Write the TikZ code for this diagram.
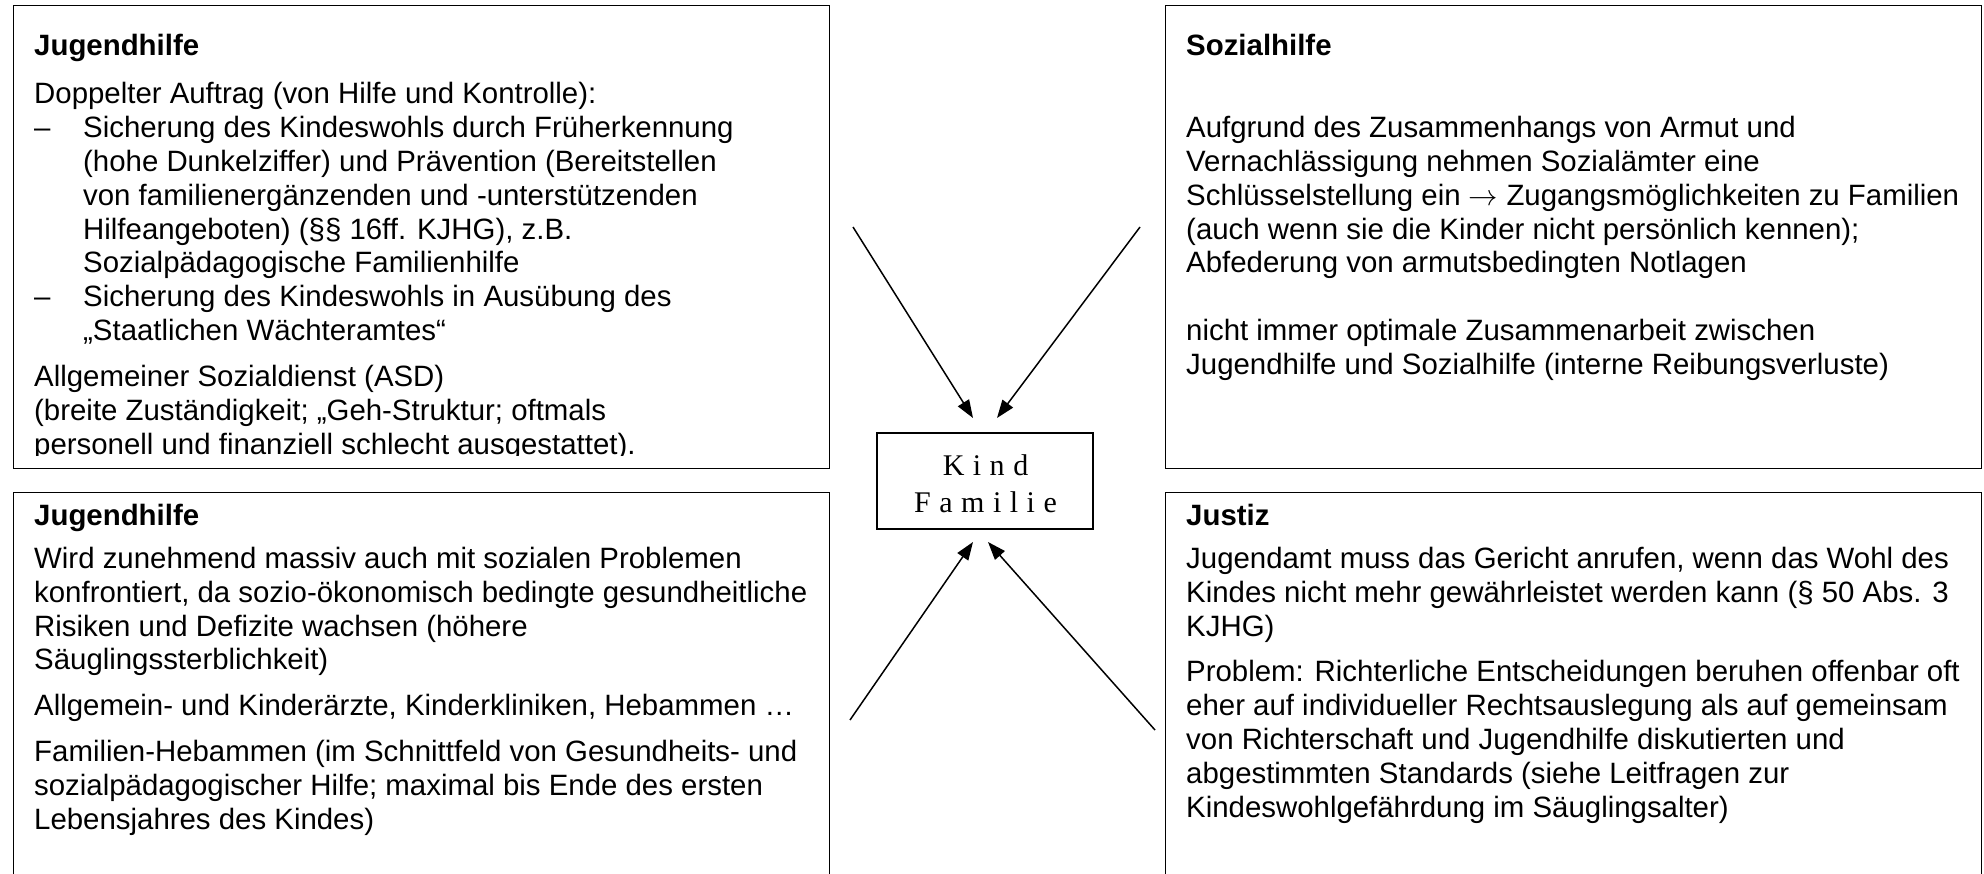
\RequirePackage{fix-cm}
\documentclass[tikz,border=0pt]{standalone}
\usepackage{fontspec}
\setmainfont{Liberation Sans}
\newfontfamily\kfont{Liberation Serif}
\usetikzlibrary{arrows.meta}
\begin{document}
\begin{tikzpicture}[x=1pt,y=-1pt,
  box/.style={draw=black,line width=1.3pt,inner sep=0pt,anchor=north west},
  txt/.style={anchor=base west,inner sep=0pt,font=\fontsize{29.4}{33.8}\selectfont},
  ttl/.style={anchor=base west,inner sep=0pt,font=\fontsize{29.4}{33.8}\selectfont\bfseries},
  arr/.style={line width=1.5pt,-{Triangle[length=18pt,width=13pt]}},
  ktxt/.style={anchor=base,inner sep=0pt,font=\kfont\fontsize{30}{36}\selectfont}]
\useasboundingbox (0,0) rectangle (1984,874);
\fill[white] (0,0) rectangle (1984,874);
\begin{scope}
\clip (0,0) rectangle (1984,874);
% boxes
\node[box,minimum width=816pt,minimum height=463pt] (tl) at (13,5) {};
\node[box,minimum width=816pt,minimum height=463pt] (tr) at (1165,5) {};
\node[box,minimum width=816pt,minimum height=420pt] (bl) at (13,492) {};
\node[box,minimum width=816pt,minimum height=420pt] (br) at (1165,492) {};
\node[draw=black,line width=1.3pt,minimum width=216pt,minimum height=96pt,inner sep=0pt] (k) at (985,481) {};
\end{scope}
% centre text
\node[ktxt] (kind) at (985.5,475) {K\kern8.5pt i\kern8.5pt n\kern8.5pt d};
\node[ktxt] (fam) at (985.5,512) {F\kern8.5pt a\kern8.5pt m\kern8.5pt i\kern8.5pt l\kern8.5pt i\kern8.5pt e};
% top left text
\node[ttl] (t0) at (34,56) {Jugendhilfe};
\node[txt] (t1) at (34,104) {Doppelter Auftrag (von Hilfe und Kontrolle):};
\node[txt] (d1) at (34,137.8) {–};
\node[txt] (t2) at (83,137.8) {Sicherung des Kindeswohls durch Früherkennung};
\node[txt] (t3) at (83,171.6) {(hohe Dunkelziffer) und Prävention (Bereitstellen};
\node[txt] (t4) at (83,205.4) {von familienergänzenden und -unterstützenden};
\node[txt] (t5) at (83,239.2) {Hilfeangeboten) (§§ 16ff. KJHG), z.B.};
\node[txt] (t6) at (83,273) {Sozialpädagogische Familienhilfe};
\node[txt] (d2) at (34,306.8) {–};
\node[txt] (t7) at (83,306.8) {Sicherung des Kindeswohls in Ausübung des};
\node[txt] (t8) at (83,340.6) {„Staatlichen Wächteramtes“};
\node[txt] (t9) at (34,386.4) {Allgemeiner Sozialdienst (ASD)};
\node[txt] (t10) at (34,420.2) {(breite Zuständigkeit; „Geh-Struktur; oftmals};
\begin{scope}
\clip (13,5) rectangle (829,455);
\node[txt] (t11) at (34,454) {personell und finanziell schlecht ausgestattet).};
\end{scope}
% top right text
\node[ttl] (s0) at (1186,56) {Sozialhilfe};
\node[txt] (s1) at (1186,137.8) {Aufgrund des Zusammenhangs von Armut und};
\node[txt] (s2) at (1186,171.6) {Vernachlässigung nehmen Sozialämter eine};
\node[txt] (s3) at (1186,205.4) {Schlüsselstellung ein $\rightarrow$ Zugangsmöglichkeiten zu Familien};
\node[txt] (s4) at (1186,239.2) {(auch wenn sie die Kinder nicht persönlich kennen);};
\node[txt] (s5) at (1186,273) {Abfederung von armutsbedingten Notlagen};
\node[txt] (s6) at (1186,340.6) {nicht immer optimale Zusammenarbeit zwischen};
\node[txt] (s7) at (1186,374.4) {Jugendhilfe und Sozialhilfe (interne Reibungsverluste)};
% bottom left text
\node[ttl] (g0) at (34,525) {Jugendhilfe};
\node[txt] (g1) at (34,568.5) {Wird zunehmend massiv auch mit sozialen Problemen};
\node[txt] (g2) at (34,602.3) {konfrontiert, da sozio-ökonomisch bedingte gesundheitliche};
\node[txt] (g3) at (34,636.1) {Risiken und Defizite wachsen (höhere};
\node[txt] (g4) at (34,669.9) {Säuglingssterblichkeit)};
\node[txt] (g5) at (34,715.7) {Allgemein- und Kinderärzte, Kinderkliniken, Hebammen …};
\node[txt] (g6) at (34,761.5) {Familien-Hebammen (im Schnittfeld von Gesundheits- und};
\node[txt] (g7) at (34,795.3) {sozialpädagogischer Hilfe; maximal bis Ende des ersten};
\node[txt] (g8) at (34,829.1) {Lebensjahres des Kindes)};
% bottom right text
\node[ttl] (j0) at (1186,525) {Justiz};
\node[txt] (j1) at (1186,568.5) {Jugendamt muss das Gericht anrufen, wenn das Wohl des};
\node[txt] (j2) at (1186,602.3) {Kindes nicht mehr gewährleistet werden kann (§ 50 Abs. 3};
\node[txt] (j3) at (1186,636.1) {KJHG)};
\node[txt] (j4) at (1186,681.9) {Problem: Richterliche Entscheidungen beruhen offenbar oft};
\node[txt] (j5) at (1186,715.7) {eher auf individueller Rechtsauslegung als auf gemeinsam};
\node[txt] (j6) at (1186,749.5) {von Richterschaft und Jugendhilfe diskutierten und};
\node[txt] (j7) at (1186,783.3) {abgestimmten Standards (siehe Leitfragen zur};
\node[txt] (j8) at (1186,817.1) {Kindeswohlgefährdung im Säuglingsalter)};
% arrows
\coordinate (a1) at (853,227);
\coordinate (h1) at (973,418);
\coordinate (a2) at (1140,227);
\coordinate (h2) at (997,418);
\coordinate (a3) at (850,720);
\coordinate (h3) at (973,542);
\coordinate (a4) at (1155,730);
\coordinate (h4) at (988,542);
\draw[arr] (a1) -- (h1);
\draw[arr] (a2) -- (h2);
\draw[arr] (a3) -- (h3);
\draw[arr] (a4) -- (h4);
\end{tikzpicture}
\end{document}
